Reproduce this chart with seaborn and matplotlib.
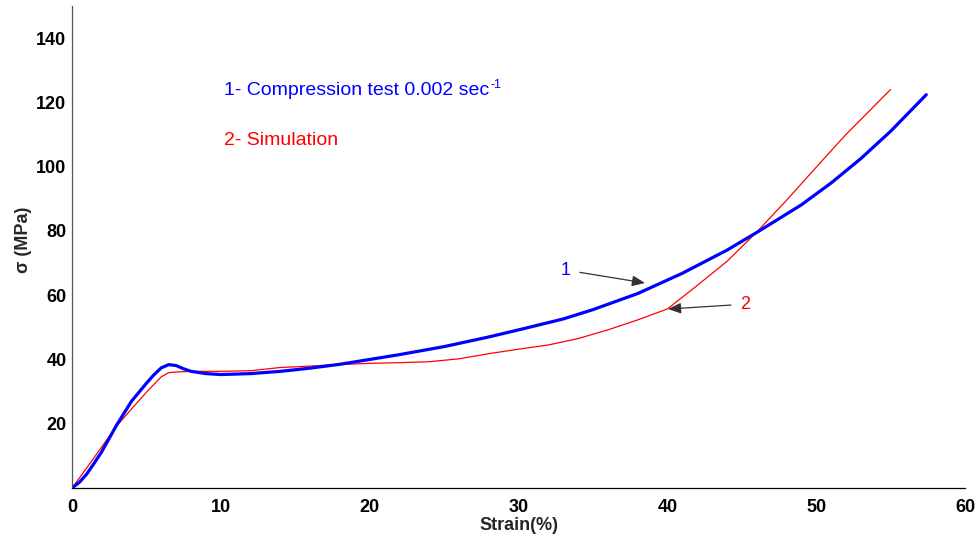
import matplotlib
matplotlib.use("Agg")
import matplotlib.pyplot as plt
import seaborn as sns
import pandas as pd

# Experimental compression test (curve 1)
exp_strain = [0, 0.5, 1, 1.5, 2, 3, 4, 5, 5.5, 6, 6.5, 7, 7.5, 8, 9, 10, 12, 14, 16, 18,
              20, 22, 25, 28, 30, 33, 35, 38, 41, 44, 46, 49, 51, 53, 55, 57.4]
exp_stress = [0, 1.8, 4.4, 7.8, 11.3, 19.6, 27.0, 32.6, 35.2, 37.4, 38.4, 38.1, 37.1, 36.3, 35.6, 35.3,
              35.6, 36.3, 37.3, 38.5, 40.0, 41.5, 44.0, 47.0, 49.2, 52.6, 55.5, 60.5, 66.8, 74.0,
              79.5, 88.1, 94.9, 102.5, 111.0, 122.4]

# Simulation (curve 2)
sim_strain = [0, 1, 2, 3, 4, 5, 6, 6.5, 7, 8, 10, 12, 13, 14, 15, 17, 20, 22, 24, 26, 28,
              30, 32, 34, 36, 38, 40, 42, 44, 46, 48, 50, 52, 55]
sim_stress = [0, 6.3, 12.8, 19.3, 24.6, 29.8, 34.6, 35.9, 36.1, 36.3, 36.3, 36.5, 37.0, 37.5,
              37.7, 38.2, 38.8, 39.0, 39.3, 40.2, 41.8, 43.2, 44.5, 46.5, 49.2, 52.3, 55.7,
              63.0, 70.5, 79.6, 89.5, 99.8, 110.0, 124.0]

x_ticks = [0, 10, 20, 30, 40, 50, 60]
y_ticks = [20, 40, 60, 80, 100, 120, 140]

sns.set_style("white")
plt.rcParams['font.family'] = ['Liberation Sans', 'DejaVu Sans']

fig = plt.figure(figsize=(9.77, 5.40), dpi=100)
ax = fig.add_axes([0.0737, 0.0963, 0.9140, 0.8926])

df_exp = pd.DataFrame({"strain": exp_strain, "stress": exp_stress})
df_sim = pd.DataFrame({"strain": sim_strain, "stress": sim_stress})

sns.lineplot(data=df_sim, x="strain", y="stress", ax=ax, color="#ff0000", lw=0.9, sort=False)
sns.lineplot(data=df_exp, x="strain", y="stress", ax=ax, color="#0000ff", lw=2.3, sort=False)

ax.set_xlim(0, 60)
ax.set_ylim(0, 150)
ax.set_xticks(x_ticks)
ax.set_yticks(y_ticks)
ax.tick_params(direction="in", length=4, width=0.8, labelsize=13, colors="black")
ax.tick_params(axis="y", pad=4)
ax.tick_params(axis="x", pad=8)
for lab in ax.get_xticklabels() + ax.get_yticklabels():
    lab.set_fontweight("bold")

for s in ["top", "right"]:
    ax.spines[s].set_visible(False)
ax.spines["bottom"].set_color("black")
ax.spines["bottom"].set_linewidth(0.9)
ax.spines["left"].set_color("#555555")
ax.spines["left"].set_linewidth(0.9)

ax.set_xlabel("Strain(%)", fontsize=13, fontweight="bold", labelpad=1)
ax.set_ylabel("σ (MPa)", fontsize=13, fontweight="bold")
ax.yaxis.set_label_coords(-0.045, 0.515)

t1 = ax.text(10.2, 123.8, "1- Compression test 0.002 sec", color="#0000ff", fontsize=14,
             va="center", ha="left")
ax.annotate("-1", xy=(1.0, 1.0), xycoords=t1, xytext=(1, 2), textcoords="offset points",
            color="#0000ff", fontsize=9, va="top", ha="left")
ax.text(10.2, 108.0, "2- Simulation", color="#ff0000", fontsize=14, va="center", ha="left")

ax.annotate("1", xy=(38.5, 63.8), xytext=(33.2, 67.8), color="#0000ff", fontsize=13,
            ha="center", va="center",
            arrowprops=dict(arrowstyle="-|>,head_length=0.6,head_width=0.25", color="#333333",
                            lw=0.9, shrinkA=4, shrinkB=0))
ax.annotate("2", xy=(40.05, 55.7), xytext=(45.2, 57.2), color="#ff0000", fontsize=13,
            ha="center", va="center",
            arrowprops=dict(arrowstyle="-|>,head_length=0.6,head_width=0.25", color="#333333",
                            lw=0.9, shrinkA=4, shrinkB=0))

fig.savefig("out.png", dpi=100)
